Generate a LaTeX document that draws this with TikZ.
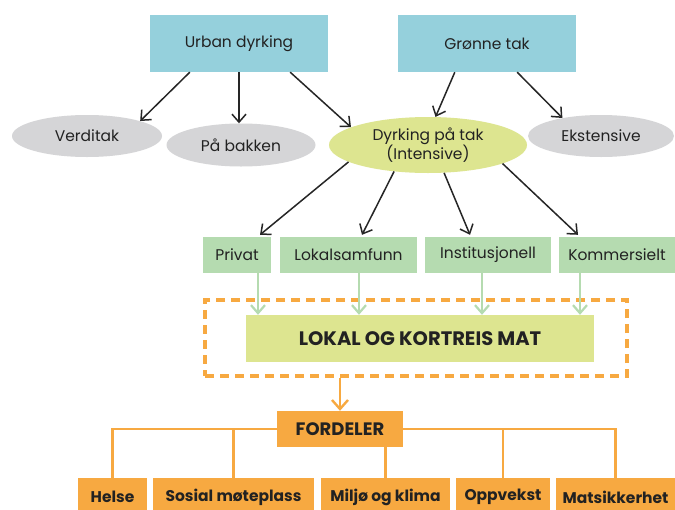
\documentclass[tikz,border=0pt]{standalone}
\usepackage{fontspec}
\setmainfont{Poppins}
\usepackage{xcolor}
\usetikzlibrary{arrows,arrows.meta,positioning,shapes.geometric}
\definecolor{blaa}{HTML}{95D0DC}
\definecolor{graa}{HTML}{D5D5D7}
\definecolor{lime}{HTML}{DDE590}
\definecolor{mintgreen}{HTML}{B5DBB0}
\definecolor{oransje}{HTML}{F7A941}
\definecolor{tekst}{HTML}{222222}
\tikzset{topbox/.style={rectangle,fill=blaa,minimum width=178pt,minimum height=57pt,inner sep=0pt}}
\tikzset{grayell/.style={ellipse,fill=graa,inner sep=0pt}}
\tikzset{typebox/.style={rectangle,fill=mintgreen,minimum height=36pt,inner sep=0pt}}
\tikzset{benefit/.style={rectangle,fill=oransje,minimum height=38pt,inner sep=0pt,font=\fontsize{15.5}{17}\selectfont\bfseries}}
\tikzset{blackarrow/.style={-{Straight Barb[length=8pt,width=14pt]},line width=1.5pt,black!85}}
\tikzset{greenarrow/.style={-{Straight Barb[length=8pt,width=14pt]},line width=2.2pt,mintgreen}}
\tikzset{orangeline/.style={line width=2.4pt,oransje}}
\begin{document}
\begin{tikzpicture}[x=1pt,y=-1pt,font=\fontsize{15.5}{17}\selectfont,text=tekst]
\clip (0,0) rectangle (675,509);
\fill[white] (0,0) rectangle (675,509);
%
{
\node (urban) [topbox] at (239,43.5) {Urban dyrking};
\node (gronne) [topbox] at (487,43.5) {Grønne tak};
}
%
{
\node (verditak) [grayell,minimum width=150pt,minimum height=42pt] at (87,136) {Verditak};
\node (bakken) [grayell,minimum width=149pt,minimum height=43pt] at (241,145) {På bakken};
\node (tak) [ellipse,fill=lime,inner sep=0pt,minimum width=198pt,minimum height=56pt,align=center,font=\fontsize{15.5}{15}\selectfont] at (428,145) {Dyrking på tak\\(Intensive)};
\node (ekstensive) [grayell,minimum width=146pt,minimum height=42pt] at (601,136) {Ekstensive};
}
%
{
\path[blackarrow]([xshift=40pt]urban.south west) edge (verditak.north east);
\path[blackarrow](urban.south) edge (urban.south |- bakken.north);
\path[blackarrow]([xshift=-38pt]urban.south east) edge (tak.167);
\path[blackarrow]([xshift=57pt]gronne.south west) edge (tak.75);
\path[blackarrow]([xshift=-59pt]gronne.south east) edge (ekstensive.155);
}
%
{
\node (privat) [typebox,minimum width=68pt] at (237,255) {Privat};
\node (lokalsamf) [typebox,minimum width=137pt] at (348.5,255) {Lokalsamfunn};
\node (instit) [typebox,minimum width=126pt] at (488,255) {Institusjonell};
\node (kommers) [typebox,minimum width=116pt] at (617,255) {Kommersielt};
}
%
{
\path[blackarrow](tak.192) edge ([xshift=23pt,yshift=2pt]privat.north);
\path[blackarrow](tak.218) edge ([xshift=13.5pt,yshift=2pt]lokalsamf.north);
\path[blackarrow](tak.300) edge ([xshift=-18pt,yshift=2pt]instit.north);
\path[blackarrow](tak.346) edge ([xshift=-39pt,yshift=2pt]kommers.north);
}
%
{
\node (ramme) [rectangle,draw=oransje,line width=3.5pt,dash pattern=on 9pt off 6pt,minimum width=422pt,minimum height=76pt] at (416,338) {};
\node (lokal) [rectangle,fill=lime,minimum width=348pt,minimum height=47pt,font=\fontsize{19.5}{21}\selectfont\bfseries] at (420,338.5) {LOKAL OG KORTREIS MAT};
\path[greenarrow]([xshift=21pt]privat.south) edge ([xshift=21pt]privat.south |- lokal.north);
\path[greenarrow]([xshift=10.5pt]lokalsamf.south) edge ([xshift=10.5pt]lokalsamf.south |- lokal.north);
\path[greenarrow]([xshift=-6pt]instit.south) edge ([xshift=-6pt]instit.south |- lokal.north);
\path[greenarrow]([xshift=-37pt]kommers.south) edge ([xshift=-37pt]kommers.south |- lokal.north);
}
%
{
\node (fordeler) [benefit,minimum width=126pt,minimum height=36pt,font=\fontsize{18}{20}\selectfont\bfseries] at (340,429) {FORDELER};
\path[-{Straight Barb[length=9pt,width=16pt]},orangeline](ramme.south -| fordeler.north) edge (fordeler.north);
}
%
{
\node (helse) [benefit,minimum width=69pt] at (112.5,497) {Helse};
\node (sosial) [benefit,minimum width=161pt] at (233.5,497) {Sosial møteplass};
\node (miljo) [benefit,minimum width=129pt] at (385.5,497) {Miljø og klima};
\node (oppvekst) [benefit,minimum width=94pt] at (503,497) {Oppvekst};
\node (matsikk) [benefit,minimum width=119pt] at (615.5,497) {Matsikkerhet};
\draw[orangeline](fordeler.west) -| (helse.north);
\draw[orangeline](fordeler.west) -| (sosial.north);
\draw[orangeline](fordeler.south -| miljo.north) -- (miljo.north);
\draw[orangeline](fordeler.east) -| (oppvekst.north);
\draw[orangeline](fordeler.east) -| (matsikk.north);
}
\end{tikzpicture}
\end{document}
